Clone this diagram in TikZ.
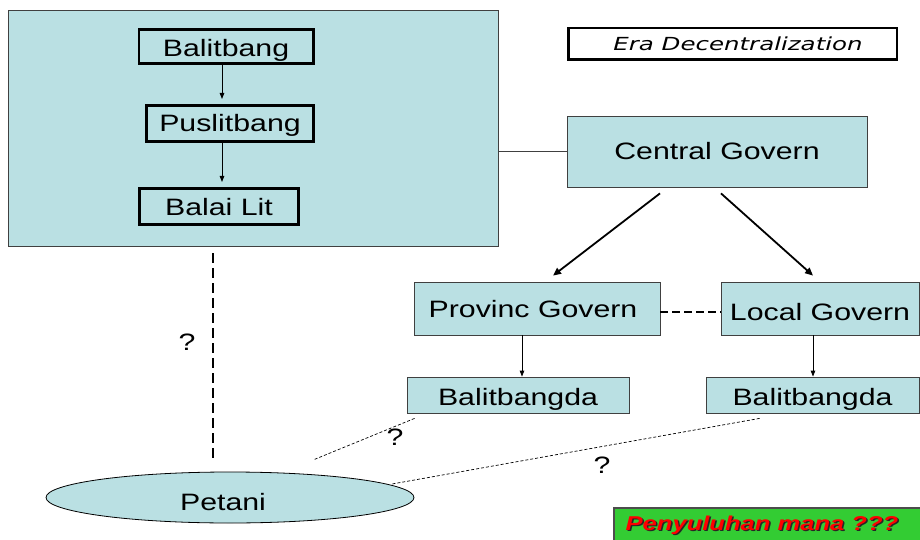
\documentclass[tikz,border=0pt]{standalone}
\usepackage{fontspec}
\setmainfont{Liberation Sans}[FakeStretch=1.278]
\newfontfamily\erafont{DejaVu Sans}[FakeStretch=1.36]
\usetikzlibrary{arrows.meta,calc,shapes.geometric}
\definecolor{boxblue}{RGB}{186,224,227}
\definecolor{signgreen}{RGB}{51,204,51}

\begin{document}
\begin{tikzpicture}[x=1pt,y=-1pt,
  lbl/.style={font=\fontsize{23.7}{28}\selectfont, inner sep=0pt, text height=17pt, text depth=0pt},
  panel/.style={draw=black!75, line width=0.8pt, fill=boxblue, inner sep=0pt},
  unitbox/.style={lbl, draw=black, line width=2.6pt},
  govbox/.style={panel, lbl},
  thinarrow/.style={-{Triangle[length=6pt,width=4.5pt]}, line width=0.9pt},
  bigarrow/.style={-{Triangle[length=8pt,width=7pt]}, line width=1.8pt},
  dotline/.style={line width=0.7pt, dash pattern=on 3pt off 2pt},
  signfont/.style={font=\fontsize{20}{24}\selectfont\bfseries\itshape, inner sep=0pt}
]
\useasboundingbox (0,0) rectangle (920,540);
\fill[white] (0,0) rectangle (920,540);

% research institutions panel
\node[panel, minimum width=490pt, minimum height=236pt] (research) at (253,128) {};
\node[unitbox, minimum width=174.4pt, minimum height=34.4pt] (balitbang) at (226,46.5) {\raisebox{-2pt}{Balitbang}};
\node[unitbox, minimum width=167.4pt, minimum height=36.4pt] (puslitbang) at (230,123.5) {Puslitbang};
\node[unitbox, minimum width=159.4pt, minimum height=36.4pt] (balailit) at (219,206.5) {Balai Lit};
\coordinate (ax) at (222,0);
\draw[thinarrow, shorten >=5pt] (balitbang.south -| ax) -- (puslitbang.north -| ax);
\draw[thinarrow, shorten >=5pt] (puslitbang.south -| ax) -- (balailit.north -| ax);

% title
\node[draw=black, line width=2.5pt, fill=white, minimum width=328.5pt, minimum height=31.5pt, inner sep=0pt] (era) at (732.5,44) {};
\node[font=\erafont\fontsize{18}{22}\selectfont\itshape, inner sep=0pt] (eratext) at (738,44) {Era Decentralization};

% government hierarchy
\node[govbox, minimum width=300pt, minimum height=71pt] (central) at (717,151.5) {Central Govern};
\node[govbox, minimum width=246pt, minimum height=53pt] (provinc) at (537,308.5) {\hspace*{-8pt}Provinc Govern};
\node[govbox, minimum width=198pt, minimum height=53pt] (local) at (820,308.5) {\raisebox{-3pt}{Local Govern}};
\node[govbox, minimum width=222pt, minimum height=36pt] (bgl) at (518,395) {\raisebox{-1.5pt}{Balitbangda}};
\node[govbox, minimum width=213pt, minimum height=36pt] (bgr) at (812.5,395) {\raisebox{-1.5pt}{Balitbangda}};

\draw[line width=0.8pt, black!75] (central.west) -- (central.west -| research.east);
\draw[bigarrow] ($(central.south)+(-57,6)$) -- ($(provinc.north)+(16,-6)$);
\draw[bigarrow] ($(central.south)+(4,6)$) -- ($(local.north)+(-7,-6)$);
\draw[line width=1.3pt, dash pattern=on 7.5pt off 4.5pt] ($(provinc.east)+(0,3.5)$) -- ($(local.west)+(0,3.5)$);
\coordinate (lx) at (522,0);
\coordinate (rx) at (813,0);
\draw[thinarrow] (provinc.south -| lx) -- (bgl.north -| lx);
\draw[thinarrow] (local.south -| rx) -- (bgr.north -| rx);

% farmers
\node[ellipse, draw=black, line width=0.8pt, fill=boxblue, minimum width=368pt, minimum height=51pt, lbl] (petani) at (230,497.5) {\raisebox{-4pt}{Petani}\hspace*{14pt}};
\coordinate (dx) at (213,0);
\draw[line width=2.7pt, dash pattern=on 9.5pt off 5.5pt] ([yshift=-7pt]research.south -| dx) -- ([yshift=14pt]petani.north -| dx);
\coordinate (pL) at (313,460);
\coordinate (pR) at (392,484);
\draw[dotline] ($(bgl.south west)+(8,5)$) -- (pL);
\draw[dotline] ($(bgr.south west)+(54,5)$) -- (pR);

\node[lbl] (q1) at (187,342) {?};
\node[lbl] (q2) at (395,437) {?};
\node[lbl] (q3) at (602,465) {?};

% closing question
\node[draw=black!70, line width=1.5pt, fill=signgreen, minimum width=320pt, minimum height=40pt, anchor=north west, inner sep=0pt] (sign) at (613,507) {};
\node[signfont, text=black!85] (signshadow) at (763.5,526.5) {Penyuluhan mana ???};
\node[signfont, text=red] (signtext) at (762,525) {Penyuluhan mana ???};
\end{tikzpicture}
\end{document}
